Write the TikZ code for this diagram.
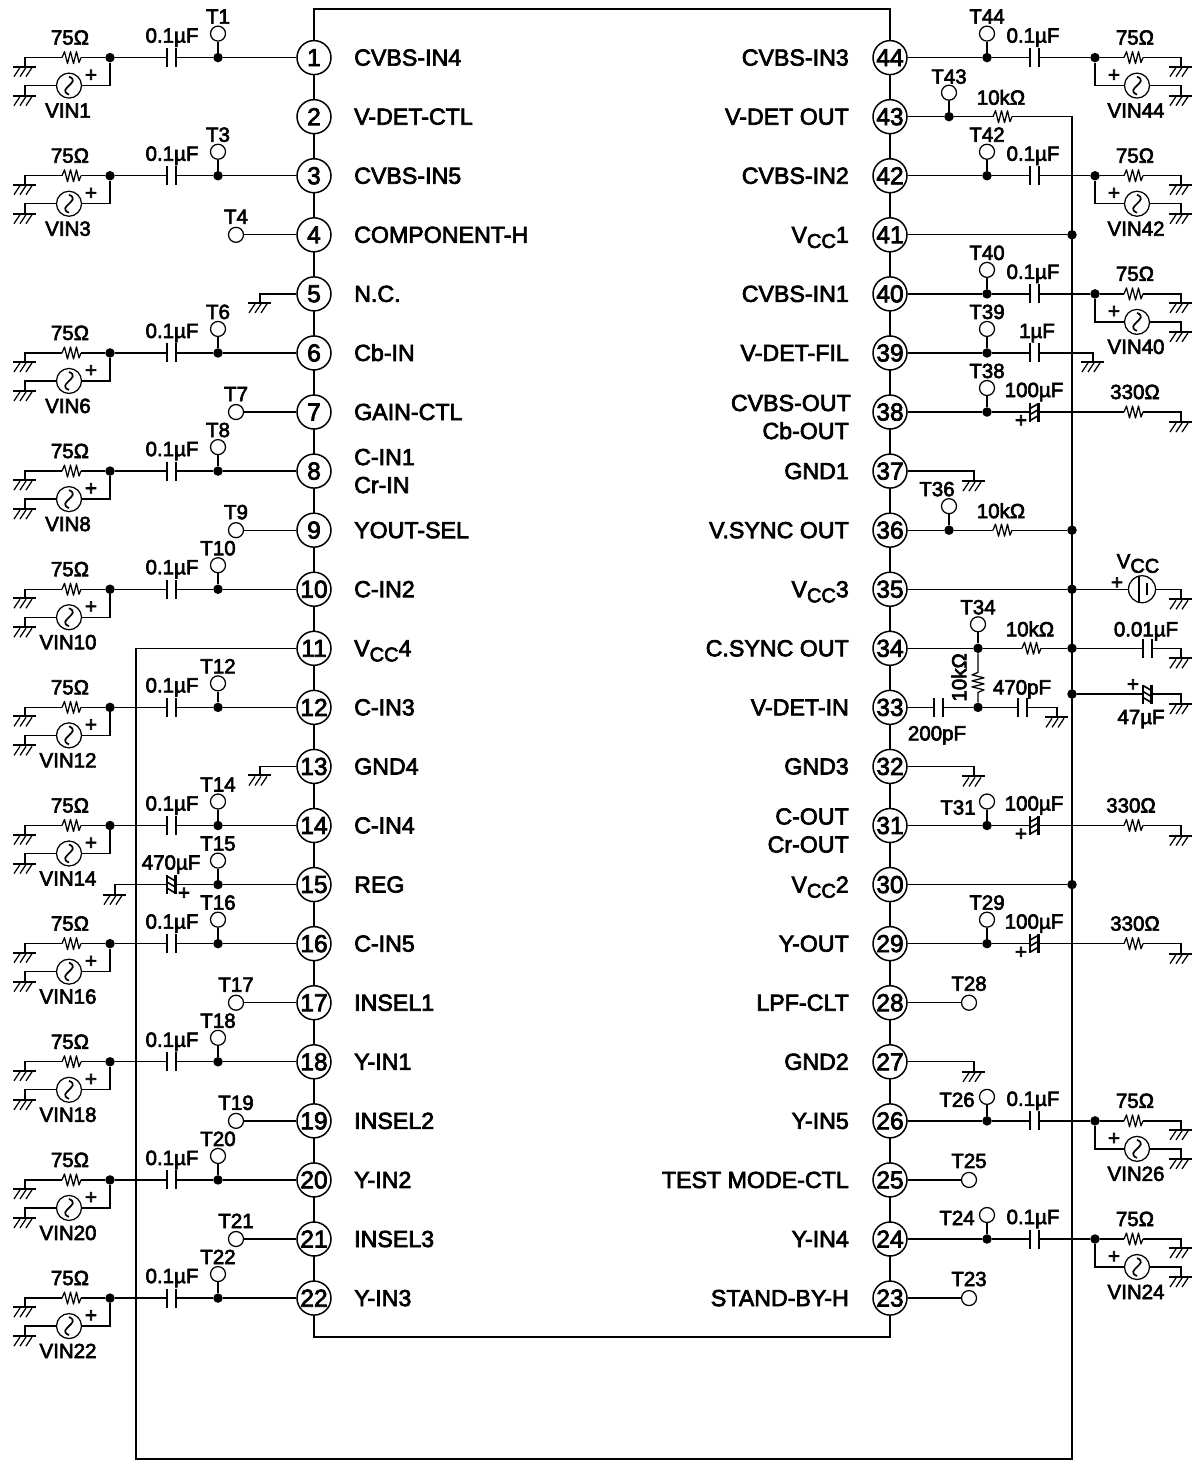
\documentclass[tikz,border=0pt]{standalone}
\usepackage{fontspec}
\setmainfont[FakeBold=3]{Liberation Sans}
\tikzset{
  x=1pt,y=-1pt,
  wire/.style={line width=1.25pt,line join=miter},
  gline/.style={line width=2pt},
  plate/.style={line width=2.6pt},
  pplate/.style={line width=2.2pt},
  icbox/.style={draw,line width=2.6pt,minimum width=576pt,minimum height=1328pt,inner sep=0},
  pinc/.style={circle,draw,fill=white,line width=1.5pt,minimum size=34pt,inner sep=0,font=\fontsize{24.5}{24.5}\selectfont},
  jdot/.style={circle,fill=black,inner sep=0,minimum size=9.5pt},
  tpt/.style={circle,draw,fill=white,line width=1.25pt,minimum size=15pt,inner sep=0},
  srcc/.style={circle,draw,fill=white,line width=1.25pt,minimum size=25pt,inner sep=0},
  batc/.style={circle,draw,fill=white,line width=1.25pt,minimum size=27pt,inner sep=0},
  pname/.style={font=\fontsize{23.2}{23.2}\selectfont,inner sep=0},
  sm/.style={font=\fontsize{20.5}{20.5}\selectfont,inner sep=0,anchor=base},
}
\newcommand{\VC}[2]{V\raisebox{-0.22em}{\fontsize{#2}{#2}\selectfont CC}#1}
\newcommand{\PY}[1]{\pgfmathsetmacro{\yy}{57.6+59.07*(#1)}}
% label: name, x, y of text centre, text
\newcommand{\lab}[4]{\node[sm] (#1) at (#2,#3+7) {#4};}
% ground symbol
\newcommand{\gnd}[3]{\coordinate (#1) at (#2,#3);
  \draw[gline] (#2-12,#3)--(#2+11,#3);
  \draw[wire] (#2-5,#3+1)--(#2-11,#3+10) (#2+1,#3+1)--(#2-5,#3+10) (#2+7,#3+1)--(#2+1,#3+10);}
% horizontal resistor
\newcommand{\resH}[3]{\coordinate (#1l) at (#2,#3); \coordinate (#1r) at (#2+19,#3);
  \draw[wire,line join=round] (#1l)--(#2+2.5,#3-6)--(#2+5.5,#3+6)--(#2+8.5,#3-6)--(#2+11.5,#3+6)--(#2+14.5,#3-6)--(#2+17,#3+5)--(#1r);}
% capacitor
\newcommand{\capH}[3]{\coordinate (#1a) at (#2,#3); \coordinate (#1b) at (#2+9,#3);
  \draw[plate] (#2,#3-9.5)--(#2,#3+9.5) (#2+9,#3-9.5)--(#2+9,#3+9.5);}
% polar capacitor: name,x,y,direction
\newcommand{\pcap}[4]{\coordinate (#1a) at (#2,#3); \coordinate (#1b) at (#2+8.5,#3);
  \draw[pplate] (#2,#3-9.5)--(#2,#3+9.5) (#2+8.5,#3-9.5)--(#2+8.5,#3+9.5);
  \draw[line width=1.6pt] ({#2},{#3+(#4)*2.5})--({#2+8.5},{#3-(#4)*2.5}) ({#2},{#3-(#4)*3.5})--({#2+8.5},{#3-(#4)*8.5}) ({#2},{#3+(#4)*8.5})--({#2+8.5},{#3+(#4)*3.5});}
% source node
\newcommand{\srcn}[3]{\node[srcc] (#1) at (#2,#3) {};
  \draw[line width=1.7pt] (#2,#3-9) .. controls (#2+7,#3-6) and (#2+3,#3-3) .. (#2,#3) .. controls (#2-3,#3+3) and (#2-7,#3+6) .. (#2,#3+9);}
% left input chain
\newcommand{\inL}[1]{%
  \PY{#1-1}
  \node[jdot] (n#1) at (110,\yy) {};
  \node[jdot] (td#1) at (218,\yy) {};
  \node[tpt] (t#1) at (218,\yy-24) {};
  \draw[wire] (t#1)--(td#1);
  \lab{tl#1}{218}{\yy-41}{T#1}
  \capH{c#1}{167}{\yy}
  \lab{cl#1}{172}{\yy-22}{0.1µF}
  \draw[wire] (p#1)--(td#1)--(c#1b) (c#1a)--(n#1);
  \resH{r#1}{62}{\yy}
  \lab{rl#1}{70}{\yy-20}{75Ω}
  \gnd{ga#1}{25}{\yy+9}
  \gnd{gb#1}{25}{\yy+38}
  \srcn{s#1}{69}{\yy+28}
  \draw[wire] (n#1)--(r#1r) (r#1l)-|(ga#1) (s#1)-|(gb#1) (s#1)-|(n#1);
  \lab{pl#1}{91}{\yy+17}{+}
  \lab{vl#1}{68}{\yy+53}{VIN#1}
}
% left stand-alone test point
\newcommand{\ptL}[1]{%
  \PY{#1-1}
  \node[tpt] (t#1) at (236,\yy) {};
  \draw[wire] (p#1)--(t#1);
  \lab{tl#1}{236}{\yy-18}{T#1}
}
% right stand-alone test point
\newcommand{\ptR}[1]{%
  \PY{44-#1}
  \node[tpt] (t#1) at (969,\yy) {};
  \draw[wire] (p#1)--(t#1);
  \lab{tl#1}{969}{\yy-19}{T#1}
}
% right pin-to-ground
\newcommand{\gR}[1]{%
  \PY{44-#1}
  \gnd{g#1}{974}{\yy+10}
  \draw[wire] (p#1)-|(g#1);
}
% left pin-to-ground
\newcommand{\gL}[1]{%
  \PY{#1-1}
  \gnd{g#1}{260}{\yy+9}
  \draw[wire] (p#1)-|(g#1);
}
% right input chain: pin, label x, label y offset
\newcommand{\inR}[3]{%
  \PY{44-#1}
  \node[jdot] (td#1) at (987,\yy) {};
  \node[tpt] (t#1) at (987,\yy-24) {};
  \draw[wire] (t#1)--(td#1);
  \lab{tl#1}{#2}{\yy+#3}{T#1}
  \capH{c#1}{1030}{\yy}
  \lab{cl#1}{1033}{\yy-22}{0.1µF}
  \node[jdot] (n#1) at (1095,\yy) {};
  \draw[wire] (p#1)--(td#1)--(c#1a) (c#1b)--(n#1);
  \resH{r#1}{1124}{\yy}
  \lab{rl#1}{1135}{\yy-20}{75Ω}
  \gnd{ga#1}{1181}{\yy+9}
  \gnd{gb#1}{1181}{\yy+38}
  \srcn{s#1}{1137}{\yy+28}
  \draw[wire] (n#1)--(r#1l) (r#1r)-|(ga#1) (s#1)-|(gb#1) (s#1)-|(n#1);
  \lab{pl#1}{1114}{\yy+17}{+}
  \lab{vl#1}{1136}{\yy+53}{VIN#1}
}
% right polar output chain
\newcommand{\outR}[5]{% pin, T label x, T label y off, 100uF label-dy, 330 label x
  \PY{44-#1}
  \node[jdot] (td#1) at (987,\yy) {};
  \node[tpt] (t#1) at (987,\yy-24) {};
  \draw[wire] (t#1)--(td#1);
  \lab{tl#1}{#2}{\yy+#3}{T#1}
  \pcap{c#1}{1030}{\yy}{1}
  \lab{cl#1}{1034}{\yy+#4}{100µF}
  \lab{pl#1}{1021}{\yy+8}{+}
  \resH{r#1}{1124}{\yy}
  \lab{rl#1}{#5}{\yy-20}{330Ω}
  \gnd{ga#1}{1181}{\yy+10}
  \draw[wire] (p#1)--(td#1)--(c#1a) (c#1b)--(r#1l) (r#1r)-|(ga#1);
}
\begin{document}
\begin{tikzpicture}
\useasboundingbox (0,0) rectangle (1195,1460);
\fill[white] (0,0) rectangle (1195,1460);
\node[icbox] (ic) at (602,673) {};
% pins
\foreach \n in {1,...,22} {
  \PY{\n-1}
  \node[pinc] (p\n) at (314,\yy) {\n};
}
\foreach \n in {23,...,44} {
  \PY{44-\n}
  \node[pinc] (p\n) at (890,\yy) {\n};
}
% pin names
\foreach \n/\t in {1/CVBS-IN4,2/V-DET-CTL,3/CVBS-IN5,4/COMPONENT-H,5/N.C.,6/Cb-IN,7/GAIN-CTL,9/YOUT-SEL,10/C-IN2,11/{\VC{4}{20}},12/C-IN3,13/GND4,14/C-IN4,15/REG,16/C-IN5,17/INSEL1,18/Y-IN1,19/INSEL2,20/Y-IN2,21/INSEL3,22/Y-IN3} {
  \PY{\n-1}
  \node[pname,anchor=base west] (nm\n) at (354,\yy+8) {\t};
}
\PY{7}
\node[pname,anchor=base west] (nm8a) at (354,\yy-14+8) {C-IN1};
\node[pname,anchor=base west] (nm8b) at (354,\yy+14+8) {Cr-IN};
\foreach \n/\t in {44/CVBS-IN3,43/V-DET OUT,42/CVBS-IN2,41/{\VC{1}{20}},40/CVBS-IN1,39/V-DET-FIL,37/GND1,36/V.SYNC OUT,35/{\VC{3}{20}},34/C.SYNC OUT,33/V-DET-IN,32/GND3,30/{\VC{2}{20}},29/Y-OUT,28/LPF-CLT,27/GND2,26/Y-IN5,25/TEST MODE-CTL,24/Y-IN4,23/STAND-BY-H} {
  \PY{44-\n}
  \node[pname,anchor=base east] (nm\n) at (849,\yy+8) {\t};
}
\PY{6}
\node[pname,anchor=base east] (nm38a) at (851,\yy-9+8) {CVBS-OUT};
\node[pname,anchor=base east] (nm38b) at (849,\yy+19+8) {Cb-OUT};
\PY{13}
\node[pname,anchor=base east] (nm31a) at (849,\yy-9+8) {C-OUT};
\node[pname,anchor=base east] (nm31b) at (849,\yy+19+8) {Cr-OUT};
% supply rail
\PY{10}
\coordinate (rA) at (136,\yy);
\coordinate (rB) at (136,1459);
\coordinate (rC) at (1072,1459);
\PY{1}
\coordinate (rD) at (1072,\yy);
\resH{r43}{993}{\yy}
\node[jdot] (td43) at (949,\yy) {};
\node[tpt] (t43) at (949,\yy-24) {};
\lab{tl43}{949}{\yy-40}{T43}
\lab{rl43}{1001}{\yy-19}{10kΩ}
\draw[wire] (p11)--(rA)--(rB)--(rC)--(rD)--(r43r) (r43l)--(td43)--(p43) (t43)--(td43);
% left chains
\foreach \n in {1,3,6,8,10,12,14,16,18,20,22} {\inL{\n}}
\foreach \n in {4,7,9,17,19,21} {\ptL{\n}}
\foreach \n in {5,13} {\gL{\n}}
% pin 15
\PY{14}
\node[jdot] (td15) at (218,\yy) {};
\node[tpt] (t15) at (218,\yy-24) {};
\lab{tl15}{218}{\yy-41}{T15}
\pcap{c15}{167}{\yy}{-1}
\lab{cl15}{171}{\yy-22}{470µF}
\lab{pl15}{184}{\yy+8}{+}
\gnd{g15}{115}{\yy+10}
\draw[wire] (t15)--(td15)--(p15) (td15)--(c15b) (c15a)-|(g15);
% right chains
\foreach \n in {44,42,40} {\inR{\n}{987}{-41}}
\inR{26}{957}{-21}
\inR{24}{957}{-21}
\outR{38}{987}{-41}{-22}{1135}
\outR{31}{958}{-18}{-22}{1131}
\outR{29}{987}{-41}{-22}{1135}
\foreach \n in {37,32,27} {\gR{\n}}
\foreach \n in {28,25,23} {\ptR{\n}}
% pin 41, 30 to rail
\PY{3}
\node[jdot] (j41) at (1072,\yy) {};
\PY{14}
\node[jdot] (j30) at (1072,\yy) {};
\draw[wire] (p41)--(j41) (p30)--(j30);
% pin 39
\PY{5}
\node[jdot] (td39) at (987,\yy) {};
\node[tpt] (t39) at (987,\yy-24) {};
\lab{tl39}{987}{\yy-41}{T39}
\capH{c39}{1030}{\yy}
\lab{cl39}{1037}{\yy-22}{1µF}
\gnd{g39}{1093}{\yy+9}
\draw[wire] (t39)--(td39)--(p39) (td39)--(c39a) (c39b)-|(g39);
% pin 36
\PY{8}
\node[jdot] (td36) at (949,\yy) {};
\node[tpt] (t36) at (949,\yy-24) {};
\lab{tl36}{937}{\yy-41}{T36}
\resH{r36}{993}{\yy}
\lab{rl36}{1001}{\yy-19}{10kΩ}
\node[jdot] (j36) at (1072,\yy) {};
\draw[wire] (t36)--(td36)--(p36) (td36)--(r36l) (r36r)--(j36);
% pin 35
\PY{9}
\node[jdot] (j35) at (1072,\yy) {};
\node[batc] (b35) at (1142,\yy) {};
\draw[line width=1.3pt] (1139,\yy-13)--(1139,\yy+13);
\draw[line width=2.6pt] (1147,\yy-6)--(1147,\yy+6);
\gnd{g35}{1181}{\yy+10}
\lab{pl35}{1117}{\yy-7}{+}
\node[sm] (vc35) at (1138,\yy-21) {\VC{}{20}};
\draw[wire] (p35)--(j35)--(b35) (b35)-|(g35);
% pin 34
\PY{10}
\node[jdot] (td34) at (978,\yy) {};
\node[tpt] (t34) at (978,\yy-24) {};
\lab{tl34}{978}{\yy-41}{T34}
\resH{r34}{1022}{\yy}
\lab{rl34}{1030}{\yy-19}{10kΩ}
\node[jdot] (j34) at (1072,\yy) {};
\capH{c34}{1143}{\yy}
\lab{cl34}{1146}{\yy-19}{0.01µF}
\gnd{g34}{1181}{\yy+10}
\draw[wire] (t34)--(td34)--(p34) (td34)--(r34l) (r34r)--(j34)--(c34a) (c34b)-|(g34);
% pin 33
\PY{11}
\capH{c33}{934}{\yy}
\lab{cl33}{937}{\yy+26}{200pF}
\node[jdot] (td33) at (978,\yy) {};
\capH{d33}{1018}{\yy}
\lab{dl33}{1022}{\yy-20}{470pF}
\gnd{g33}{1057}{\yy+10}
\coordinate (vrt) at (978,\yy-35);
\coordinate (vrb) at (978,\yy-15);
\draw[wire,line join=round] (td34)--(vrt)--(972,\yy-32.5)--(984,\yy-29.5)--(972,\yy-26.5)--(984,\yy-23.5)--(972,\yy-20.5)--(984,\yy-17.5)--(vrb)--(td33);
\node[sm,rotate=90,anchor=center] (rv) at (959,\yy-30) {10kΩ};
\draw[wire] (p33)--(c33a) (c33b)--(td33)--(d33a) (d33b)-|(g33);
% 47uF branch
\node[jdot] (j47) at (1072,694) {};
\pcap{c47}{1143}{694}{-1}
\lab{cl47}{1141}{717}{47µF}
\lab{pl47}{1133}{684}{+}
\gnd{g47}{1181}{704}
\draw[wire] (j47)--(c47a) (c47b)-|(g47);
\end{tikzpicture}
\end{document}
